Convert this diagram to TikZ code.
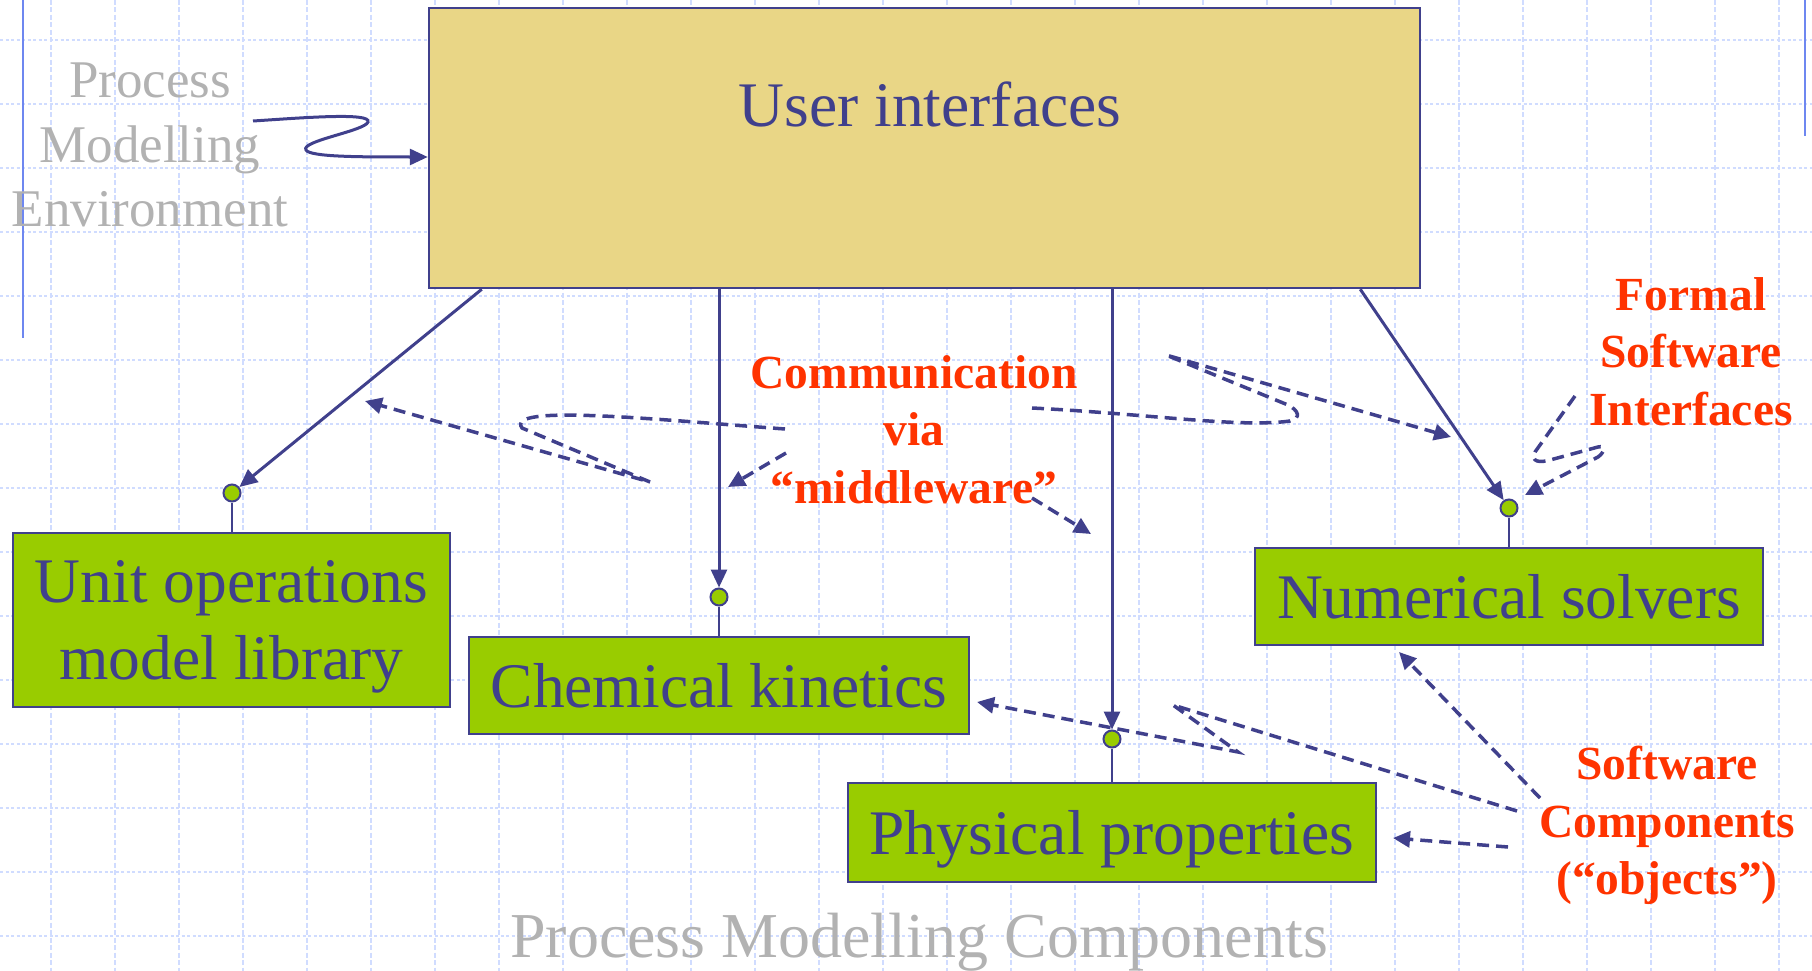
\documentclass[tikz,border=0pt]{standalone}
\usepackage{fontspec}
\setmainfont{Liberation Serif}
\usetikzlibrary{arrows.meta,calc}

\definecolor{ink}{RGB}{64,64,140}
\definecolor{khaki}{RGB}{233,214,134}
\definecolor{leaf}{RGB}{153,204,0}
\definecolor{flame}{RGB}{255,51,0}
\definecolor{mist}{RGB}{178,178,178}
\definecolor{gridblue}{RGB}{208,220,255}
\definecolor{railblue}{RGB}{110,135,240}

\begin{document}
\begin{tikzpicture}[x=1pt,y=-1pt,
  gridv/.style={draw=gridblue, line width=1.3pt, dash pattern=on 5pt off 2.5pt},
  gridh/.style={draw=gridblue, line width=1.3pt, dash pattern=on 3pt off 2.5pt},
  rail/.style={draw=railblue, line width=2.2pt},
  uibox/.style={draw=ink, line width=2.5pt, fill=khaki, inner sep=0pt,
    minimum width=991pt, minimum height=280pt},
  compbox/.style={draw=ink, line width=2.5pt, fill=leaf, inner sep=0pt, text=ink,
    font=\fontsize{63.5}{77}\selectfont, align=center, text depth=0pt},
  bluetext/.style={text=ink, font=\fontsize{63.5}{77}\selectfont, inner sep=0pt},
  port/.style={circle, draw=ink, line width=2pt, fill=leaf, minimum size=17pt, inner sep=0pt},
  stem/.style={draw=ink, line width=2.2pt},
  link/.style={draw=ink, line width=3pt, -{Triangle[length=18pt,width=16pt]}},
  hint/.style={draw=ink, line width=3.5pt, dash pattern=on 12pt off 7pt,
    -{Triangle[length=17pt,width=16pt]}},
  note/.style={text=flame, font=\fontsize{47.5}{57.5}\selectfont\bfseries, align=center,
    inner sep=0pt, anchor=north, text depth=0pt},
  faint/.style={text=mist, align=center, inner sep=0pt},
]
\useasboundingbox (0,0) rectangle (1812,971);
\clip (0,0) rectangle (1812,971);

% background grid
\foreach \gx in {0,...,27} \draw[gridv] ({51+64*\gx},0) -- ({51+64*\gx},971);
\foreach \gy in {0,...,14} \draw[gridh] (0,{40+64*\gy}) -- (1812,{40+64*\gy});

% margin rails
\draw[rail] (23,0) -- (23,338);
\draw[rail] (1805,0) -- (1805,136);

% user interface layer
\node[uibox] (ui) at (924.5,148) {};
\node[bluetext, anchor=base] (uilabel) at (930,127) {User interfaces};

% component boxes
\node[compbox, minimum width=437pt, minimum height=174pt] (unit) at (231.5,620) {Unit operations\\model library};
\node[compbox, minimum width=500pt, minimum height=97pt] (chem) at (719,685.5) {Chemical kinetics};
\node[compbox, minimum width=528pt, minimum height=99pt] (phys) at (1112,832.5) {Physical properties};
\node[compbox, minimum width=508pt, minimum height=97pt] (num) at (1509,596.5) {Numerical solvers};

% interface ports
\node[port] (uport) at (232,493) {};
\node[port] (cport) at (719,597) {};
\node[port] (pport) at (1112,739) {};
\node[port] (nport) at (1509,508) {};

\draw[stem] (uport.south) -- (uport.south |- unit.north);
\draw[stem] (cport.south) -- (cport.south |- chem.north);
\draw[stem] (pport.south) -- (pport.south |- phys.north);
\draw[stem] (nport.south) -- (nport.south |- num.north);

% links from the user interfaces
\draw[link] ([xshift=54pt]ui.south west) -- (uport);
\draw[link] (cport |- ui.south) -- (cport);
\draw[link] (pport |- ui.south) -- (pport);
\draw[link] ([xshift=-61pt]ui.south east) -- (nport);

% environment label and its arrow
\node[faint, font=\fontsize{53}{64.5}\selectfont, anchor=north] (pme) at (150,63) {Process\\Modelling\\Environment};
\coordinate (pmeout) at (253,121);
\coordinate (uiin) at ([yshift=-9pt]ui.west);
\draw[link] (pmeout) .. controls (300,118) and (372,112) .. (368,122)
  .. controls (365,131) and (300,141) .. (306,150)
  .. controls (310,157) and (360,157) .. (uiin);

% middleware label and pointers
\node[note] (comm) at (914,355) {Communication\\via\\“middleware”};
\coordinate (ma0) at (785,429);
\coordinate (ma1) at (365,401);
\draw[hint] (ma0) .. controls (650,419) and (505,404) .. (522,428) -- (650,482) -- (ma1);
\coordinate (mb0) at (786,453);
\coordinate (mb1) at (728,487);
\draw[hint] (mb0) -- (mb1);
\coordinate (mc0) at (1032,498);
\coordinate (mc1) at (1091,534);
\draw[hint] (mc0) -- (mc1);
\coordinate (md0) at (1032,408);
\coordinate (md1) at (1451,437);
\draw[hint] (md0) .. controls (1150,414) and (1240,428) .. (1290,421)
  .. controls (1302,418) and (1298,410) .. (1288,405) -- (1166,355) -- (md1);

% formal interfaces label and pointer
\node[note] (formal) at (1691,277) {Formal\\Software\\Interfaces};
\coordinate (fa0) at (1575,396);
\coordinate (fa1) at (1525,495);
\draw[hint] (fa0) -- (1535,452) .. controls (1530,462) and (1540,463) .. (1550,460)
  -- (1598,447) .. controls (1606,445) and (1605,452) .. (1598,457) -- (fa1);

% software components label and pointers
\node[note] (softcomp) at (1667,746) {Software\\Components\\(“objects”)};
\coordinate (sa0) at (1540,798);
\coordinate (sa1) at (1399,652);
\draw[hint] (sa0) -- (sa1);
\coordinate (sb0) at (1517,811);
\coordinate (sb1) at (977,702);
\draw[hint] (sb0) -- (1173,705) -- (1238,752) -- (sb1);
\coordinate (sc0) at (1508,847);
\coordinate (sc1) at (1393,838);
\draw[hint] (sc0) -- (sc1);

% caption
\node[faint, font=\fontsize{64}{77}\selectfont, anchor=base] (title) at (919,957) {Process Modelling Components};
\end{tikzpicture}
\end{document}
